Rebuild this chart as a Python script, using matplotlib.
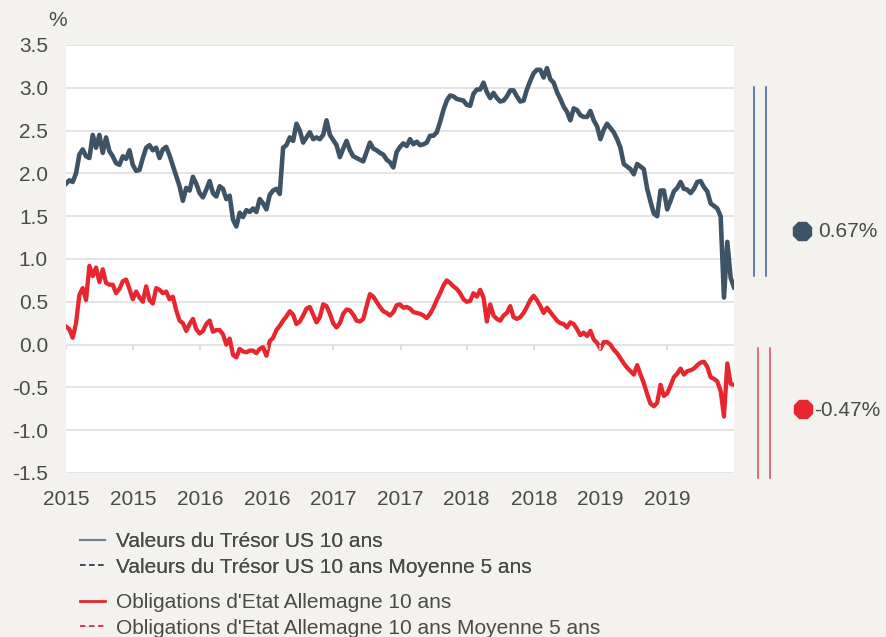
import matplotlib.pyplot as plt
import matplotlib.dates as mdates
from matplotlib.lines import Line2D
import pandas as pd

plt.rcParams['font.family'] = ['Liberation Sans', 'DejaVu Sans']

# 10-year yields, roughly every 9 days from mid-March 2015 to mid-March 2020
us_10y = [
    1.88, 1.92, 1.90, 2.00, 2.22, 2.28, 2.20, 2.18, 2.45, 2.30,
    2.45, 2.24, 2.42, 2.26, 2.20, 2.12, 2.10, 2.20, 2.17, 2.27,
    2.10, 2.03, 2.04, 2.18, 2.30, 2.33, 2.27, 2.30, 2.18, 2.28,
    2.31, 2.21, 2.09, 1.97, 1.85, 1.68, 1.83, 1.80, 1.96, 1.88,
    1.77, 1.72, 1.81, 1.91, 1.77, 1.73, 1.85, 1.82, 1.70, 1.74,
    1.46, 1.38, 1.54, 1.49, 1.57, 1.55, 1.59, 1.55, 1.70, 1.65,
    1.58, 1.75, 1.80, 1.82, 1.76, 2.30, 2.33, 2.42, 2.38, 2.58,
    2.50, 2.36, 2.42, 2.48, 2.40, 2.42, 2.40, 2.45, 2.62, 2.45,
    2.39, 2.33, 2.19, 2.29, 2.38, 2.27, 2.20, 2.18, 2.16, 2.14,
    2.25, 2.36, 2.29, 2.27, 2.24, 2.22, 2.16, 2.13, 2.07, 2.25,
    2.31, 2.35, 2.32, 2.40, 2.34, 2.37, 2.33, 2.34, 2.36, 2.44,
    2.44, 2.48, 2.60, 2.74, 2.85, 2.91, 2.90, 2.87, 2.86, 2.85,
    2.80, 2.79, 2.93, 2.98, 2.98, 3.06, 2.95, 2.88, 2.94, 2.88,
    2.84, 2.85, 2.90, 2.97, 2.97, 2.90, 2.84, 2.85, 2.98, 3.08,
    3.17, 3.21, 3.21, 3.12, 3.23, 3.10, 3.06, 2.95, 2.87, 2.78,
    2.72, 2.62, 2.76, 2.74, 2.68, 2.66, 2.66, 2.73, 2.62, 2.55,
    2.40, 2.51, 2.58, 2.53, 2.48, 2.40, 2.30, 2.11, 2.08, 2.05,
    1.99, 2.11, 2.08, 2.05, 1.82, 1.67, 1.53, 1.50, 1.80, 1.80,
    1.58, 1.68, 1.79, 1.83, 1.90, 1.82, 1.81, 1.77, 1.82, 1.90,
    1.91, 1.84, 1.79, 1.65, 1.62, 1.59, 1.50, 0.55, 1.20, 0.78,
    0.67,
]

de_10y = [
    0.21, 0.18, 0.08, 0.25, 0.58, 0.66, 0.52, 0.92, 0.80, 0.90,
    0.73, 0.88, 0.72, 0.70, 0.70, 0.60, 0.65, 0.74, 0.76, 0.65,
    0.53, 0.62, 0.55, 0.50, 0.68, 0.52, 0.48, 0.66, 0.64, 0.60,
    0.62, 0.53, 0.56, 0.40, 0.28, 0.25, 0.16, 0.24, 0.30, 0.18,
    0.13, 0.16, 0.24, 0.28, 0.15, 0.17, 0.17, 0.12, 0.00, 0.07,
    -0.12, -0.15, -0.05, -0.08, -0.09, -0.07, -0.07, -0.10, -0.05, -0.03,
    -0.13, 0.04, 0.08, 0.17, 0.22, 0.28, 0.33, 0.39, 0.35, 0.24,
    0.27, 0.34, 0.42, 0.44, 0.35, 0.26, 0.32, 0.47, 0.45, 0.36,
    0.25, 0.20, 0.25, 0.36, 0.41, 0.40, 0.35, 0.28, 0.27, 0.30,
    0.45, 0.59, 0.56, 0.50, 0.44, 0.39, 0.37, 0.34, 0.38, 0.46,
    0.47, 0.43, 0.44, 0.42, 0.38, 0.37, 0.36, 0.34, 0.31, 0.36,
    0.43, 0.52, 0.60, 0.69, 0.75, 0.72, 0.68, 0.65, 0.60, 0.53,
    0.50, 0.51, 0.60, 0.56, 0.64, 0.55, 0.27, 0.47, 0.34, 0.30,
    0.28, 0.34, 0.37, 0.45, 0.32, 0.30, 0.32, 0.37, 0.44, 0.52,
    0.57, 0.52, 0.45, 0.37, 0.43, 0.38, 0.33, 0.28, 0.25, 0.24,
    0.20, 0.26, 0.24, 0.18, 0.11, 0.14, 0.10, 0.16, 0.06, 0.02,
    -0.05, 0.03, 0.03, 0.00, -0.06, -0.10, -0.16, -0.22, -0.27, -0.31,
    -0.35, -0.24, -0.35, -0.45, -0.58, -0.69, -0.72, -0.68, -0.47, -0.60,
    -0.57, -0.48, -0.38, -0.34, -0.28, -0.35, -0.31, -0.30, -0.28, -0.24,
    -0.21, -0.20, -0.26, -0.38, -0.40, -0.43, -0.54, -0.84, -0.22, -0.46,
    -0.47,
]

dates = pd.date_range('2015-03-13', '2020-03-13', periods=len(us_10y))
tick_dates = pd.date_range('2015-03-13', periods=10, freq=pd.DateOffset(months=6))
y_ticks = [3.5, 3.0, 2.5, 2.0, 1.5, 1.0, 0.5, 0.0, -0.5, -1.0, -1.5]

labels_us = ['Valeurs du Trésor US 10 ans', 'Valeurs du Trésor US 10 ans Moyenne 5 ans']
labels_de = ["Obligations d'Etat Allemagne 10 ans", "Obligations d'Etat Allemagne 10 ans Moyenne 5 ans"]

bg = '#f3f2ee'
txt = '#4a4a46'
blue = '#3f5366'
red = '#e8262f'
fs = 15
W, H = 886, 637

fig = plt.figure(figsize=(W / 100, H / 100), dpi=100, facecolor=bg)
ax = fig.add_axes([66 / W, 1 - 473 / H, 668 / W, 428 / H])
ax.set_facecolor('white')

ax.plot(dates, us_10y, color=blue, lw=3.3, solid_joinstyle='round')
ax.plot(dates, de_10y, color=red, lw=3.1, solid_joinstyle='round')

ax.set_ylim(-1.5, 3.5)
ax.set_xlim(dates[0], dates[-1])
ax.set_yticks(y_ticks)
ax.set_yticklabels([f'{v:.1f}' for v in y_ticks])
ax.grid(axis='y', color='#e2e2e2', lw=1.3)
ax.set_axisbelow(True)
for s in ax.spines.values():
    s.set_visible(False)

ax.set_xticks(tick_dates)
ax.xaxis.set_major_formatter(mdates.DateFormatter('%Y'))
ax.tick_params(axis='both', length=0, labelsize=fs, labelcolor=txt)
ax.tick_params(axis='y', pad=13)
ax.tick_params(axis='x', pad=12.5)
# small tick marks hanging below the zero line
ax.vlines(tick_dates, 0, -0.065, color='#d8d8d8', lw=1.2)

fig.text(58 / W, 1 - 20 / H, '%', ha='center', va='center', fontsize=fs, color=txt)

# right-hand annotation: double rules, markers and latest values
for xp in (754, 766):
    fig.add_artist(Line2D([xp / W, xp / W], [1 - 87 / H, 1 - 276 / H],
                          transform=fig.transFigure, color='#3e5a9c', lw=1.1))
for xp in (758, 770):
    fig.add_artist(Line2D([xp / W, xp / W], [1 - 348 / H, 1 - 478 / H],
                          transform=fig.transFigure, color='#e0464e', lw=1.1))
fig.add_artist(Line2D([802 / W], [1 - 231 / H], transform=fig.transFigure,
                      marker='8', color=blue, markersize=14, lw=0))
fig.add_artist(Line2D([803 / W], [1 - 409 / H], transform=fig.transFigure,
                      marker='8', color=red, markersize=14, lw=0))
fig.text(818 / W, 1 - 232 / H, f'{us_10y[-1]:.2f}%', ha='left', va='center',
         fontsize=fs, color=txt)
fig.text(814 / W, 1 - 410 / H, f'{de_10y[-1]:.2f}%', ha='left', va='center',
         fontsize=fs, color=txt)

# legend, two groups
h_us = [Line2D([], [], color='#6e8297', lw=1.5),
        Line2D([], [], color=blue, lw=1.3, ls=(0, (3, 2)))]
h_de = [Line2D([], [], color=red, lw=2.0),
        Line2D([], [], color=red, lw=1.3, ls=(0, (3, 2)))]
leg_kw = dict(frameon=False, fontsize=fs, handlelength=1.2, handletextpad=0.55,
              labelspacing=0.32, borderpad=0, borderaxespad=0, labelcolor=txt,
              loc='upper left')
leg1 = fig.legend(h_us, labels_us, bbox_to_anchor=(80 / W, 1 - 532 / H), **leg_kw)
fig.add_artist(leg1)
fig.legend(h_de, labels_de, bbox_to_anchor=(80 / W, 1 - 593 / H), **leg_kw)

fig.savefig('out.png', dpi=100, facecolor=bg)
